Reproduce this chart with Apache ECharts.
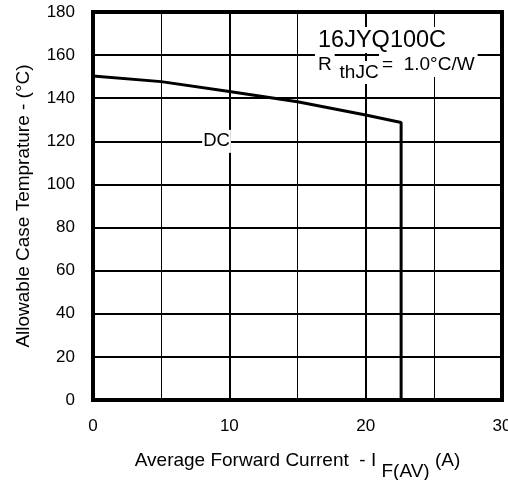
<!DOCTYPE html>
<html>
<head>
<meta charset="utf-8">
<script src="https://cdn.jsdelivr.net/npm/echarts@6/dist/echarts.min.js"></script>
<style>
html,body{margin:0;padding:0;background:#fff;}
#chart{width:508px;height:480px;}
</style>
</head>
<body>
<div id="chart"></div>
<script>
// Data
const currentA = [0, 5, 10, 15, 20, 22.6, 22.6];
const caseTempC = [150.3, 147.7, 143.1, 138.4, 132.2, 128.7, 0];
const xTickLabels = ['0', '10', '20', '30'];
const yTickLabels = ['0', '20', '40', '60', '80', '100', '120', '140', '160', '180'];
const curveLabel = 'DC';
const curveLabelAt = [9.06, 120];
const partName = '16JYQ100C';
const partNameAt = [16.36, 167.0];
const rthLabels = ['R', 'thJC', '=  1.0°C/W'];
const rthAt = [[16.28, 155.4], [17.94, 151.9], [20.98, 155.4]];

const FONT = 'Liberation Sans, Arial, Helvetica, sans-serif';
const chart = echarts.init(document.getElementById('chart'));

const option = {
  animation: false,
  backgroundColor: '#fff',
  grid: {
    left: 93, right: 6, top: 12, bottom: 80,
    outerBoundsMode: 'none', containLabel: false,
    show: true, borderColor: '#000', borderWidth: 4, backgroundColor: 'transparent'
  },
  xAxis: {
    type: 'value', min: 0, max: 30, interval: 10,
    axisLine: { show: false },
    axisTick: { show: false },
    axisLabel: { fontSize: 17, color: '#000', fontFamily: FONT, margin: 18,
      formatter: v => xTickLabels[Math.round(v / 10)] },
    splitLine: { show: true, lineStyle: { color: '#000', width: 2 } },
    minorTick: { show: false, splitNumber: 2 },
    minorSplitLine: { show: true, lineStyle: { color: '#000', width: 1 } },
    name: '{m|Average Forward Current  - I }{s|F(AV)}{m| (A)}',
    nameLocation: 'middle', nameGap: 51,
    nameTextStyle: {
      color: '#000', fontFamily: FONT,
      rich: {
        m: { fontSize: 19, fontFamily: FONT, color: '#000', verticalAlign: 'top', lineHeight: 20 },
        s: { fontSize: 19, fontFamily: FONT, color: '#000', verticalAlign: 'top', lineHeight: 20, padding: [11, 0, 0, 0] }
      }
    }
  },
  yAxis: {
    type: 'value', min: 0, max: 180, interval: 20,
    axisLine: { show: false },
    axisTick: { show: false },
    axisLabel: { fontSize: 17, color: '#000', fontFamily: FONT, margin: 18,
      formatter: v => yTickLabels[Math.round(v / 20)] },
    splitLine: { show: true, lineStyle: { color: '#000', width: 2 } },
    name: 'Allowable Case Temprature - (°C)',
    nameLocation: 'middle', nameGap: 60,
    nameTextStyle: { fontSize: 19, color: '#000', fontFamily: FONT }
  },
  series: [{
    type: 'line',
    data: currentA.map((x, i) => [x, caseTempC[i]]),
    showSymbol: false,
    symbol: 'none',
    lineStyle: { color: '#000', width: 3 },
    z: 5
  }]
};
chart.setOption(option);

function px(pt) { return chart.convertToPixel({ gridIndex: 0 }, pt); }
function txt(text, at, size, align, pad) {
  const p = px(at);
  return {
    type: 'text', x: p[0], y: p[1], z: 100,
    style: {
      text: text, fill: '#000', font: size + 'px ' + FONT,
      align: align, verticalAlign: 'middle',
      backgroundColor: '#fff', padding: pad
    }
  };
}
chart.setOption({
  graphic: [
    txt(curveLabel, curveLabelAt, 18.5, 'center', [2, 1, 2, 1]),
    txt(partName, partNameAt, 23.5, 'left', [2, 2, 0, 2]),
    txt(rthLabels[0], rthAt[0], 19, 'left', [4, 3, 1, 3]),
    txt(rthLabels[1], rthAt[1], 19, 'left', [2, 2, 2, 2]),
    txt(rthLabels[2], rthAt[2], 19, 'left', [4, 3, 1, 3])
  ]
});
</script>
</body>
</html>
